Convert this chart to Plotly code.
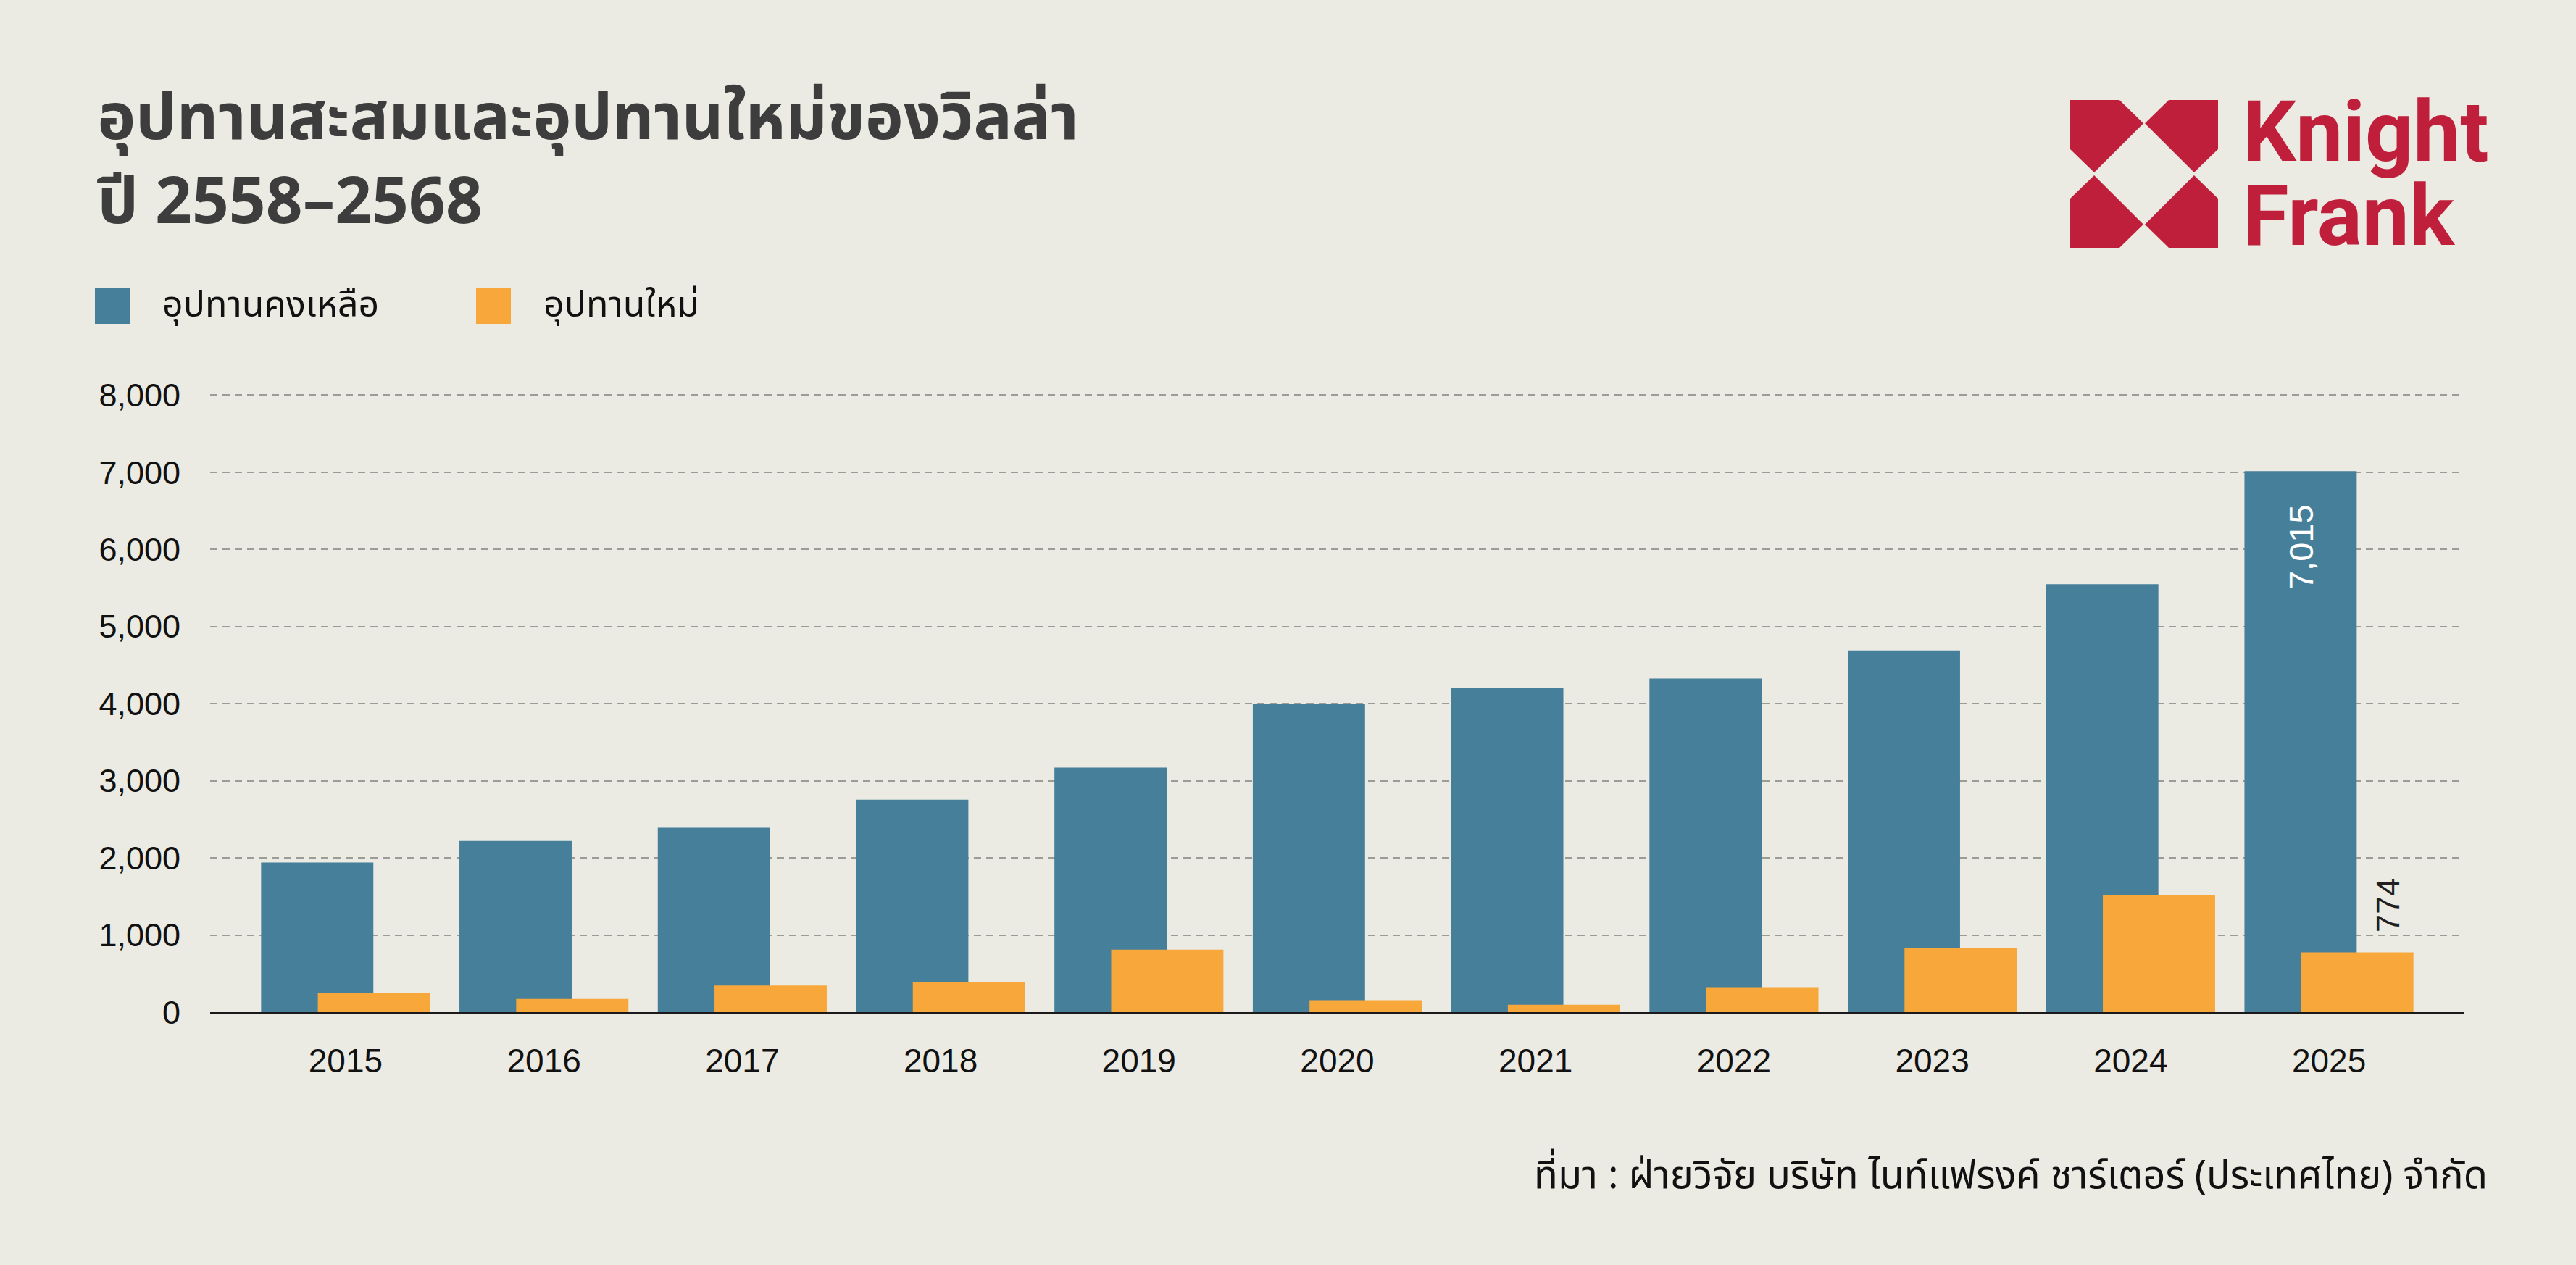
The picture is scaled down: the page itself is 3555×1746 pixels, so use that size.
import plotly.graph_objects as go

# ---------------- data ----------------
years = [2015, 2016, 2017, 2018, 2019, 2020, 2021, 2022, 2023, 2024, 2025]
year_labels = [str(y) for y in years]
remaining_supply = [1940, 2220, 2390, 2755, 3170, 4000, 4200, 4325, 4690, 5550, 7015]
new_supply = [250, 172, 345, 389, 809, 154, 97, 323, 831, 1514, 774]
series_names = ["อุปทานคงเหลือ", "อุปทานใหม่"]
y_ticks = [0, 1000, 2000, 3000, 4000, 5000, 6000, 7000, 8000]

title_line1 = "อุปทานสะสมและอุปทานใหม่ของวิลล่า"
title_line2 = "ปี 2558–2568"
source_text = "ที่มา : ฝ่ายวิจัย บริษัท ไนท์แฟรงค์ ชาร์เตอร์ (ประเทศไทย) จำกัด"

# ---------------- style ----------------
BG = "#EBEBE3"
BLUE = "#457F99"
ORANGE = "#F8A73B"
RED = "#C01F3B"
TITLE_C = "#3D3D3D"
THAI_FONT = "Noto Sans Thai, Noto Sans Thai UI, Noto Sans, sans-serif"
NUM_FONT = "Liberation Sans, Arial, sans-serif"

W_PX, H_PX = 3555, 1746
L, R, T, B = 290, 3401, 524, 1397
PW, PH = R - L, B - T


def px(x):
    return (x - L) / PW


def py(y):
    return (B - y) / PH


bar_w = 0.566
blue_off = -0.426
orange_off = -0.140

fig = go.Figure()
fig.add_trace(go.Bar(
    x=years, y=remaining_supply, name=series_names[0],
    marker=dict(color=BLUE, line=dict(width=0)),
    width=bar_w, offset=blue_off, hoverinfo="x+y",
))
fig.add_trace(go.Bar(
    x=years, y=new_supply, name=series_names[1],
    marker=dict(color=ORANGE, line=dict(width=0)),
    width=bar_w, offset=orange_off, hoverinfo="x+y",
))

fig.update_layout(
    width=W_PX, height=H_PX,
    autosize=False,
    paper_bgcolor=BG, plot_bgcolor=BG,
    margin=dict(l=L, r=W_PX - R, t=T, b=H_PX - B, pad=0),
    barmode="overlay",
    showlegend=False,
    xaxis=dict(
        range=[years[0] - 0.683, years[-1] + 0.683],
        tickvals=years, ticktext=year_labels,
        tickfont=dict(family=NUM_FONT, size=46, color="#111111"),
        showgrid=False, zeroline=False,
        showline=True, linecolor="#1A1A1A", linewidth=2,
        ticks="", ticklabelstandoff=26,
        layer="below traces",
    ),
    yaxis=dict(
        range=[0, 8200],
        tickvals=y_ticks, tickformat=",",
        tickfont=dict(family=NUM_FONT, size=45, color="#111111"),
        showgrid=True, gridcolor="#9C9C96", gridwidth=2, griddash="10px,7px",
        zeroline=False, showline=False, ticks="",
        ticklabelstandoff=40,
    ),
)

annotations = []
# title (two lines in one text)
annotations.append(dict(
    text="<b>" + title_line1 + "<br>" + title_line2 + "</b>", xref="paper", yref="paper",
    x=px(132), y=py(96), xanchor="left", yanchor="top", align="left",
    showarrow=False, font=dict(family=THAI_FONT, size=89, color=TITLE_C),
))
# legend
legend_items = [(131, BLUE, series_names[0], 222), (657, ORANGE, series_names[1], 748)]
shapes = []
for x0, col, name, tx in legend_items:
    shapes.append(dict(type="rect", xref="paper", yref="paper",
                       x0=px(x0), x1=px(x0 + 48), y0=py(447), y1=py(397),
                       fillcolor=col, line=dict(width=0)))
    annotations.append(dict(
        text=name, xref="paper", yref="paper", x=px(tx), y=py(422),
        xanchor="left", yanchor="middle", showarrow=False,
        font=dict(family=THAI_FONT, size=50, color="#111111"),
    ))
# data labels
annotations.append(dict(
    text=f"{remaining_supply[-1]:,}", x=years[-1] + blue_off + bar_w / 2, y=remaining_supply[-1],
    xref="x", yref="y", xanchor="center", yanchor="top", yshift=-44,
    textangle=-90, showarrow=False,
    font=dict(family=NUM_FONT, size=47, color="#FFFFFF"),
))
annotations.append(dict(
    text=f"{new_supply[-1]:,}", x=years[-1] + 0.295, y=new_supply[-1],
    xref="x", yref="y", xanchor="center", yanchor="bottom", yshift=26,
    textangle=-90, showarrow=False,
    font=dict(family=NUM_FONT, size=45, color="#231F20"),
))
# source
annotations.append(dict(
    text=source_text, xref="paper", yref="paper", x=px(3435), y=py(1623),
    xanchor="right", yanchor="middle", showarrow=False,
    font=dict(family=THAI_FONT, size=54, color="#111111"),
))

# logo: icon built from four pentagons
ix0, iy0, isz = 2857, 138, 204
tl = [(0, 0), (0.333, 0), (0.495, 0.158), (0.162, 0.49), (0, 0.333)]
for fx, fy in [(False, False), (True, False), (False, True), (True, True)]:
    pts = []
    for u, v in tl:
        uu = 1 - u if fx else u
        vv = 1 - v if fy else v
        pts.append((px(ix0 + uu * isz), py(iy0 + vv * isz)))
    path = "M " + " L ".join(f"{a:.5f},{b:.5f}" for a, b in pts) + " Z"
    shapes.append(dict(type="path", xref="paper", yref="paper", path=path,
                       fillcolor=RED, line=dict(width=0)))
annotations.append(dict(
    text="<b>Knight</b>", xref="paper", yref="paper", x=px(3093), y=py(252),
    xanchor="left", yanchor="bottom", showarrow=False,
    font=dict(family="Roboto, sans-serif", size=116, color=RED),
))
annotations.append(dict(
    text="<b>Frank</b>", xref="paper", yref="paper", x=px(3093), y=py(368),
    xanchor="left", yanchor="bottom", showarrow=False,
    font=dict(family="Roboto, sans-serif", size=116, color=RED),
))

fig.update_layout(annotations=annotations, shapes=shapes)
fig.write_html("out.html")
